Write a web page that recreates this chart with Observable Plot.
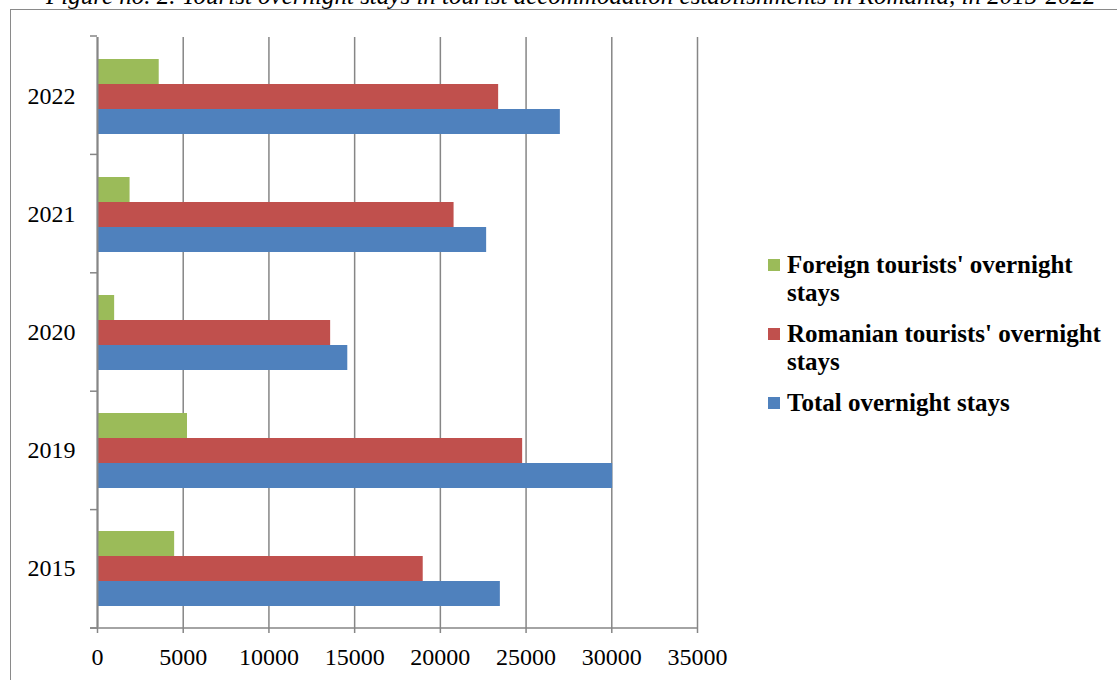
<!DOCTYPE html>
<html>
<head>
<meta charset="utf-8">
<script src="https://cdn.jsdelivr.net/npm/d3@7"></script>
<script src="https://cdn.jsdelivr.net/npm/@observablehq/plot@0.6"></script>
<style>
  html, body { margin: 0; padding: 0; background: #fff; overflow: hidden; }
  #wrap { position: relative; width: 1117px; height: 680px; overflow: hidden; background: #fff; }
  #title { position: absolute; left: 46px; top: -17px; white-space: nowrap; font: italic 25px/25px "Liberation Serif", "Times New Roman", serif; color: #000; }
  #border { position: absolute; left: 10px; top: 9px; width: 2000px; height: 2000px; border-left: 1.5px solid #8a8a8a; border-top: 1.5px solid #8a8a8a; }
  #chart { position: absolute; left: 0; top: 0; }
  #legend { position: absolute; left: 768px; top: 251px; font: bold 25px/28px "Liberation Serif", "Times New Roman", serif; color: #000; }
  .item { display: flex; align-items: flex-start; margin-bottom: 13px; }
  .sw { width: 12px; height: 12px; margin-top: 8px; margin-right: 7px; flex: none; }
</style>
</head>
<body>
<div id="wrap">
  <div id="title">Figure no. 2. Tourist overnight stays in tourist accommodation establishments in Romania, in 2015-2022</div>
  <div id="border"></div>
  <div id="chart"></div>
  <div id="legend"></div>
</div>
<script>
const years = ["2022", "2021", "2020", "2019", "2015"];
const series = ["Foreign tourists' overnight stays", "Romanian tourists' overnight stays", "Total overnight stays"];
const legendLines = [["Foreign tourists' overnight", "stays"], ["Romanian tourists' overnight", "stays"], ["Total overnight stays"]];
const foreign = [3600, 1900, 1000, 5250, 4500];
const romanian = [23400, 20800, 13600, 24800, 19000];
const total = [27000, 22700, 14600, 30050, 23500];
const colors = ["#9BBB59", "#C0504D", "#4F81BD"];
const xTicks = [0, 5000, 10000, 15000, 20000, 25000, 30000, 35000];

const valuesBySeries = [foreign, romanian, total];
const rows = years.flatMap((yr, i) => series.map((s, j) => ({year: yr, series: s, value: valuesBySeries[j][i]})));

const gray = "#868686";
const chart = Plot.plot({
  width: 1117,
  height: 680,
  marginLeft: 97,
  marginRight: 420,
  marginTop: 36,
  marginBottom: 52,
  style: {fontFamily: "'Liberation Serif', 'Times New Roman', serif", fontSize: "24px", color: "#000", background: "transparent", overflow: "visible"},
  x: {domain: [0, 35000], ticks: xTicks},
  y: {domain: series, axis: null, paddingInner: 0, paddingOuter: 0.78},
  fy: {domain: years, padding: 0, label: null},
  color: {domain: series, range: colors},
  marks: [
    Plot.gridX(xTicks, {stroke: gray, strokeOpacity: 1, strokeWidth: 1.5}),
    Plot.barX(rows, {fy: "year", y: "series", x: "value", fill: "series"}),
    Plot.ruleX([0], {stroke: gray, strokeWidth: 2}),
    Plot.axisX(xTicks, {tickSize: 6, tickPadding: 14, stroke: gray, strokeWidth: 1.5, fill: "#000", tickFormat: d => String(d), label: null, fontSize: 24}),
    Plot.axisFy({anchor: "left", tickSize: 0, tickPadding: 22, label: null, fontSize: 24, fill: "#000"})
  ]
});
document.getElementById("chart").appendChild(chart);

// Category boundary ticks and x axis line, positioned from the plot's own scales
const svg = d3.select(chart);
const xScale = Plot.scale({x: chart.scale("x")});
const x0 = xScale.apply(0), x1 = xScale.apply(35000);
let fyDesc = null;
try { fyDesc = chart.scale("fy"); } catch (e) { fyDesc = null; }
let r0 = 36, r1 = 628;
if (fyDesc && fyDesc.range) { r0 = Math.min(...fyDesc.range); r1 = Math.max(...fyDesc.range); }
const step = (r1 - r0) / years.length;
const edges = d3.range(years.length + 1).map(i => r0 + i * step);
const g = svg.append("g").attr("stroke", gray).attr("stroke-width", 1.5);
g.selectAll("line.edge").data(edges).join("line")
  .attr("class", "edge")
  .attr("x1", x0 - 7).attr("x2", x0).attr("y1", d => d).attr("y2", d => d);
g.append("line").attr("x1", x0 - 7).attr("x2", x1).attr("y1", r1).attr("y2", r1);

// Legend
const legend = document.getElementById("legend");
series.forEach((s, j) => {
  const item = document.createElement("div");
  item.className = "item";
  const sw = document.createElement("div");
  sw.className = "sw";
  sw.style.background = colors[j];
  const txt = document.createElement("div");
  txt.innerHTML = legendLines[j].join("<br>");
  item.appendChild(sw);
  item.appendChild(txt);
  legend.appendChild(item);
});
</script>
</body>
</html>
